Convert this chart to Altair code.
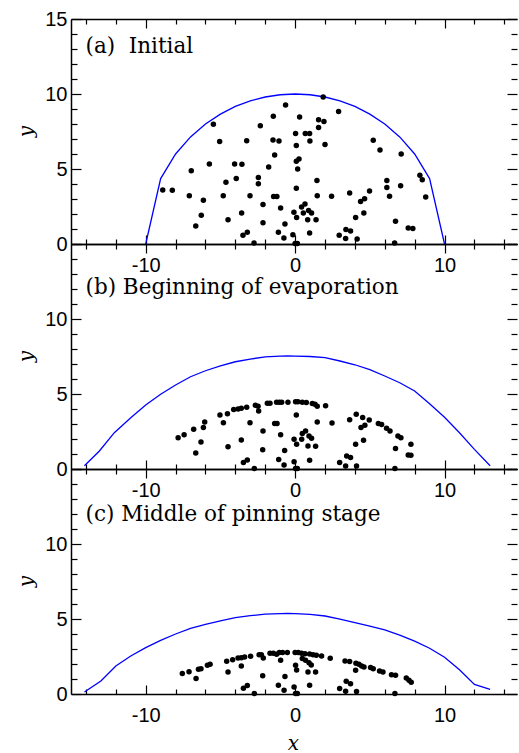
import altair as alt
import pandas as pd

# ---------------- data ----------------
# (a) Initial : droplet outline
a_curve_x = [-10, -9, -8, -7, -6, -5, -4, -3, -2, -1, 0, 1, 2, 3, 4, 5, 6, 7, 8, 9, 10]
a_curve_y = [0, 4.36, 6.0, 7.14, 8.0, 8.66, 9.17, 9.54, 9.80, 9.95, 10.0, 9.95, 9.80, 9.54, 9.17, 8.66, 8.0, 7.14, 6.0, 4.36, 0]
# (a) particles
a_px = [1.88, -0.64, 2.91, -1.46, 0.30, 1.57, 1.93, -5.47, -2.33, 1.57,
        0.03, 0.68, 0.97, -5.05, -3.24, -1.48, -1.08, 0.99, 0.08, 2.00,
        5.23, 5.68, 7.10, -1.37, 0.26, 0.08, -5.74, -4.05, -3.56, -1.77,
        0.17, -6.95, 8.35, 8.51, -2.46, -2.46, -4.63, -3.94, 1.46, 6.14,
        6.14, 7.06, 0.08, -8.86, -8.22, -7.08, -4.81, -3.02, -1.44, -1.22,
        1.48, 2.44, 3.65, 4.98, 6.32, 8.74, 4.65, 4.38, -6.14, -2.15,
        -0.97, 0.66, 0.43, 0.90, 1.10, 0.55, -0.08, -6.28, -3.58, 4.60,
        4.05, 0.10, 0.84, 1.40, -4.49, -2.15, -0.68, 6.72, -6.65, 7.57,
        7.88, 3.40, 3.71, -3.20, -3.49, -1.12, 0.97, -0.15, 2.95, -0.75,
        3.38, 4.15, -2.75, 0.0, 0.15, 6.66]
a_py = [9.80, 9.27, 8.84, 8.51, 8.47, 8.29, 8.16, 7.98, 7.89, 7.76,
        7.36, 7.36, 7.36, 6.84, 6.89, 6.93, 6.87, 6.87, 6.56, 6.64,
        6.91, 6.27, 6.00, 5.93, 5.67, 5.51, 5.33, 5.33, 5.31, 5.13,
        5.00, 4.89, 4.58, 4.29, 4.44, 4.02, 4.11, 4.36, 4.24, 4.24,
        3.76, 3.89, 3.71, 3.60, 3.58, 3.22, 3.22, 3.22, 3.16, 3.16,
        3.22, 3.18, 3.40, 3.53, 3.18, 3.13, 3.02, 2.84, 2.91, 2.64,
        2.40, 2.67, 2.47, 2.24, 2.07, 2.07, 2.11, 1.91, 2.07, 2.07,
        1.76, 1.76, 1.62, 1.62, 1.62, 1.42, 1.33, 1.51, 1.20, 1.07,
        1.04, 0.96, 0.87, 0.78, 0.58, 0.78, 0.73, 0.62, 0.58, 0.40,
        0.36, 0.33, 0.07, 0.04, 0.04, 0.07]

# (b) Beginning of evaporation
b_curve_x = [-14.1, -13.1, -12.1, -11, -10, -9, -8, -7, -6, -5, -4, -3, -2, -1, -0.5, 0,
             1, 2, 3, 4, 5, 6, 7, 8, 9, 10, 11, 12, 13.05]
b_curve_y = [0.22, 1.2, 2.42, 3.42, 4.27, 4.98, 5.6, 6.15, 6.55, 6.87, 7.15, 7.33, 7.47, 7.53, 7.54, 7.53,
             7.5, 7.42, 7.2, 6.95, 6.62, 6.2, 5.75, 5.2, 4.35, 3.45, 2.42, 1.31, 0.22]
b_px = [-7.83, -7.43, -6.79, -6.05, -6.14, -6.30, -6.65, -5.03, -4.53, -4.80,
        -4.11, -3.82, -3.60, -3.24, -2.66, -2.48, -2.44, -3.02, -3.60, -4.49,
        -2.15, -2.17, -3.20, -3.46, -2.73, -1.86, -1.68, -1.24, -1.06, -0.90,
        -0.48, -1.37, -1.21, -0.97, -1.10, -0.74, -0.70, 0.03, 0.19, 0.48,
        0.75, 1.15, 1.33, 1.48, 2.04, 0.08, 1.48, 2.47, -0.07, 0.10,
        0.48, 0.70, 0.93, 1.10, 0.44, 0.86, 1.37, 0.97, -0.07, 0.03,
        0.15, 3.65, 4.09, 4.52, 4.96, 4.67, 4.41, 4.58, 4.05, 3.45,
        3.71, 3.38, 2.98, 4.11, 5.57, 5.79, 6.12, 6.35, 6.88, 7.08,
        6.72, 7.75, 7.57, 7.75, 6.68]
b_py = [2.09, 2.29, 2.65, 3.13, 2.76, 1.80, 1.07, 3.60, 3.69, 3.09,
        3.96, 4.00, 4.05, 4.11, 4.25, 4.18, 3.87, 3.09, 1.93, 1.49,
        2.53, 1.29, 0.60, 0.43, 0.03, 4.38, 4.38, 4.45, 4.45, 4.45,
        4.45, 3.03, 3.03, 2.29, 0.63, 0.27, 1.23, 4.49, 4.49, 4.45,
        4.43, 4.36, 4.31, 4.18, 4.22, 3.60, 3.13, 3.07, 1.98, 1.65,
        2.36, 2.53, 2.20, 2.05, 1.98, 1.53, 1.51, 0.58, 0.49, 0.03,
        0.03, 3.29, 3.65, 3.43, 3.27, 2.91, 2.76, 1.91, 1.65, 0.87,
        0.76, 0.20, 0.43, 0.20, 3.03, 2.96, 2.71, 2.53, 2.20, 2.09,
        1.36, 1.65, 0.93, 0.91, 0.03]

# (c) Middle of pinning stage
c_curve_x = [-14.1, -13, -12, -11, -10, -9, -8, -7, -6, -5, -4, -3, -2, -1, -0.5, 0,
             1, 2, 3, 4, 5, 6, 7, 8, 9, 10, 11, 12, 13.05]
c_curve_y = [0.13, 0.87, 1.87, 2.53, 3.09, 3.58, 4.0, 4.38, 4.64, 4.88, 5.09, 5.22, 5.32, 5.36, 5.37, 5.36,
             5.31, 5.2, 4.99, 4.76, 4.52, 4.27, 3.93, 3.53, 3.05, 2.45, 1.62, 0.64, 0.31]
c_px = [-7.55, -7.10, -6.63, -6.47, -6.30, -5.87, -5.69, -4.58, -4.18, -3.82,
        -3.60, -3.38, -2.98, -2.41, -2.26, -2.13, -3.60, -4.49, -2.17, -3.20,
        -3.46, -2.73, -1.68, -1.46, -1.24, -1.06, -0.84, -0.52, -0.97, -0.68,
        -1.12, -0.74, 0.00, 0.21, 0.43, 0.66, 0.97, 1.20, 1.42, 1.77,
        2.35, 0.48, 0.70, 0.93, 1.08, 0.03, 0.10, 0.86, 1.37, 0.97,
        -0.07, 0.03, 0.15, 3.34, 3.65, 4.07, 4.27, 4.45, 4.61, 4.05,
        5.05, 5.23, 5.65, 5.88, 6.45, 6.72, 7.44, 7.62, 7.77, 3.42,
        3.71, 2.98, 3.38, 4.11, 6.68]
c_py = [1.36, 1.49, 1.03, 1.65, 1.69, 1.91, 1.98, 2.18, 2.29, 2.40,
        2.42, 2.47, 2.51, 2.62, 2.62, 2.40, 1.87, 1.47, 1.22, 0.56,
        0.38, 0.03, 2.71, 2.71, 2.65, 2.76, 2.76, 2.76, 2.25, 1.16,
        0.58, 0.25, 2.76, 2.76, 2.71, 2.69, 2.67, 2.62, 2.58, 2.53,
        2.38, 2.36, 2.25, 2.09, 1.93, 1.91, 1.60, 1.47, 1.47, 0.58,
        0.46, 0.03, 0.03, 2.20, 2.16, 2.05, 1.98, 1.87, 1.80, 1.58,
        1.76, 1.69, 1.53, 1.47, 1.29, 1.25, 1.07, 0.91, 0.78, 0.85,
        0.69, 0.36, 0.18, 0.16, 0.03]

panel_labels = ["(a)\u00a0 Initial", "(b) Beginning of evaporation", "(c) Middle of pinning stage"]
label_pos_x = [-14.03, -14.03, -14.03]
label_pos_y = [12.73, 11.65, 11.53]

x_tick_values = list(range(-14, 15, 2))
y_tick_values = list(range(0, 16))

# ---------------- chart ----------------
X_DOMAIN = [-15, 14.85]
Y_DOMAIN = [0, 15]
W, H = 446, 225
LABEL_FONT = "Liberation Sans"
SERIF = "DejaVu Serif"


def xsize():
    return {"condition": {"test": "datum.value % 10 === 0", "value": -9}, "value": -5}


def ysize():
    return {"condition": {"test": "datum.value % 5 === 0", "value": -10}, "value": -6}


def panel(cx, cy, px, py, label, lx, ly, top_panel, bottom_panel):
    curve = pd.DataFrame({"x": cx, "y": cy})
    dots = pd.DataFrame({"x": px, "y": py})
    lab = pd.DataFrame({"x": [lx], "y": [ly], "t": [label]})
    xs = alt.Scale(domain=X_DOMAIN, nice=False, zero=False)
    ys = alt.Scale(domain=Y_DOMAIN, nice=False, zero=False)

    ylab = "datum.value % 5 === 0 ? '' + datum.value : ''"
    if not top_panel:
        ylab = "(datum.value % 5 === 0 && datum.value < 15) ? '' + datum.value : ''"

    common = dict(grid=False, domainColor="black", domainWidth=1.5, tickColor="black",
                  tickWidth=1.2, labelFont=LABEL_FONT, labelFontSize=20, labelColor="black",
                  labelOverlap=False, labelFlush=False)

    x_bottom = alt.Axis(
        orient="bottom", values=x_tick_values, tickSize=xsize(),
        labelExpr="datum.value % 10 === 0 ? '' + datum.value : ''",
        labelPadding=20, labelBaseline="top",
        title="x" if bottom_panel else None,
        titleFont=SERIF, titleFontStyle="italic", titleFontWeight="normal", titleFontSize=20,
        titleColor="black", titleX=222, titleY=55, titleBaseline="alphabetic", titleAlign="center",
        **common)
    y_left = alt.Axis(
        orient="left", values=y_tick_values, tickSize=ysize(),
        labelExpr=ylab, labelPadding=14, labelBaseline="middle",
        title="y", titleFont=SERIF, titleFontStyle="italic", titleFontWeight="normal",
        titleFontSize=20, titleColor="black", titleX=-45, titleY=112, titleAngle=270,
        titleBaseline="middle", titleAlign="center",
        **common)
    x_top = alt.Axis(orient="top", values=x_tick_values, tickSize=xsize(), labels=False,
                     title=None, grid=False, domainColor="black", domainWidth=1.5,
                     tickColor="black", tickWidth=1.2)
    y_right = alt.Axis(orient="right", values=y_tick_values, tickSize=ysize(), labels=False,
                       title=None, grid=False, domain=False, tickColor="black", tickWidth=1.2)

    line = alt.Chart(curve).mark_line(color="#0000ff", strokeWidth=1.3).encode(
        x=alt.X("x:Q", scale=xs, axis=x_bottom),
        y=alt.Y("y:Q", scale=ys, axis=y_left),
        order=alt.Order("x:Q"),
    )
    pts = alt.Chart(dots).mark_circle(color="black", opacity=1, size=30).encode(
        x=alt.X("x:Q", scale=xs, axis=x_top),
        y=alt.Y("y:Q", scale=ys, axis=y_right),
    )
    txt = alt.Chart(lab).mark_text(align="left", baseline="alphabetic", font=SERIF,
                                   fontSize=21.5, color="black").encode(
        x=alt.X("x:Q", scale=xs, axis=None),
        y=alt.Y("y:Q", scale=ys, axis=None),
        text="t:N",
    )
    return alt.layer(line, pts, txt).resolve_axis(x="independent", y="independent").properties(
        width=W, height=H)


pa = panel(a_curve_x, a_curve_y, a_px, a_py, panel_labels[0], label_pos_x[0], label_pos_y[0], True, False)
pb = panel(b_curve_x, b_curve_y, b_px, b_py, panel_labels[1], label_pos_x[1], label_pos_y[1], False, False)
pc = panel(c_curve_x, c_curve_y, c_px, c_py, panel_labels[2], label_pos_x[2], label_pos_y[2], False, True)

chart = alt.vconcat(pa, pb, pc, spacing=0, bounds="flush").properties(
    padding={"left": 16, "top": 9, "right": 0, "bottom": 0},
    background="white",
).configure_view(stroke=None)

chart.save("out.html", embed_options={"renderer": "svg", "actions": False})
